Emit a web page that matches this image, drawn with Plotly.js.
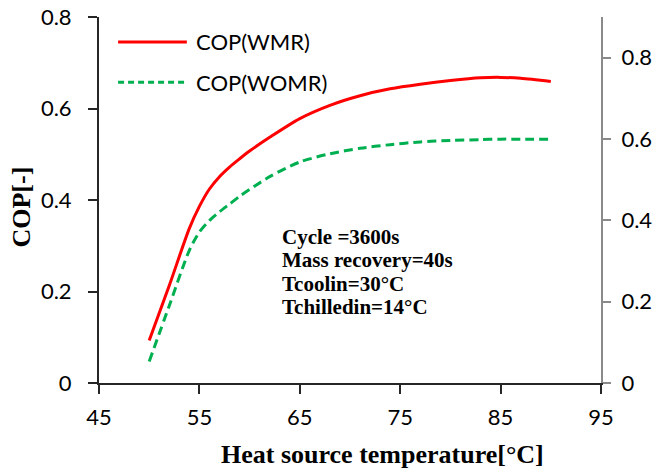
<!DOCTYPE html>
<html>
<head>
<meta charset="utf-8">
<script src="https://cdn.plot.ly/plotly-3.0.1.min.js"></script>
<style>html,body{margin:0;padding:0;background:#fff;}#chart{width:662px;height:469px;}</style>
</head>
<body>
<div id="chart"></div>
<script>
// Heat source temperature [°C]
const temperature = [50, 52, 54, 55, 56, 57, 58, 59, 60, 62, 65, 68, 71, 74, 77, 80, 83, 85, 87, 90];
// COP with mass recovery
const copWMR = [0.093, 0.213, 0.338, 0.386, 0.424, 0.451, 0.472, 0.490, 0.507, 0.537, 0.578, 0.607, 0.628, 0.643, 0.653, 0.661, 0.667, 0.668, 0.666, 0.659];
// COP without mass recovery
const copWOMR = [0.047, 0.169, 0.290, 0.330, 0.355, 0.374, 0.391, 0.408, 0.423, 0.451, 0.483, 0.501, 0.513, 0.521, 0.527, 0.530, 0.532, 0.533, 0.533, 0.533];
const seriesNames = ["COP(WMR)", "COP(WOMR)"];
const xTicks = [45, 55, 65, 75, 85, 95];
const yTicks = [0, 0.2, 0.4, 0.6, 0.8];
const y2Ticks = [0, 0.2, 0.4, 0.6, 0.8];
const noteLines = ["Cycle =3600s", "Mass recovery=40s", "Tcoolin=30°C", "Tchilledin=14°C"];
const xTitle = "Heat source temperature[°C]";
const yTitle = "COP[-]";

const tickFont = {family: "Lato, 'Open Sans', sans-serif", size: 22, color: "#000"};
const serifBold = "'Liberation Serif', 'Times New Roman', serif";

const traces = [
  {x: temperature, y: copWMR, name: seriesNames[0], type: "scatter", mode: "lines",
   line: {color: "#FF0000", width: 3, shape: "spline", smoothing: 0.8}, showlegend: false, hoverinfo: "skip"},
  {x: temperature, y: copWOMR, name: seriesNames[1], type: "scatter", mode: "lines",
   line: {color: "#00B050", width: 3, dash: "9px,5px", shape: "spline", smoothing: 0.8}, showlegend: false, hoverinfo: "skip"},
  // carrier so the secondary (right) axis is drawn; it has no marks
  {x: [], y: [], yaxis: "y2", type: "scatter", mode: "lines", showlegend: false, hoverinfo: "skip"}
];

const noteAnnotations = noteLines.map((t, i) => ({
  text: "<b>" + t + "</b>", xref: "paper", yref: "paper", x: 0.36, y: 0.399 - i * 0.0636,
  xanchor: "left", yanchor: "middle", align: "left", showarrow: false,
  font: {family: serifBold, size: 21, color: "#000"}
}));

const layout = {
  width: 662, height: 469,
  margin: {l: 99, r: 61, t: 17, b: 86, pad: 0},
  paper_bgcolor: "#fff", plot_bgcolor: "#fff",
  showlegend: false,
  xaxis: {range: [45, 95], tickvals: xTicks, ticktext: xTicks.map(String), ticks: "outside", ticklen: 9, tickwidth: 2,
    tickcolor: "#262626", showline: true, linecolor: "#262626", linewidth: 2, showgrid: false, zeroline: false,
    tickfont: tickFont, ticklabelstandoff: 5, fixedrange: true},
  yaxis: {range: [0, 0.8], tickvals: yTicks, ticktext: yTicks.map(v => String(v)), ticks: "outside", ticklen: 9, tickwidth: 2,
    tickcolor: "#262626", showline: true, linecolor: "#262626", linewidth: 2, showgrid: false, zeroline: false,
    tickfont: tickFont, ticklabelstandoff: 12, fixedrange: true},
  yaxis2: {range: [0, 0.9], overlaying: "y", side: "right", anchor: "x", tickvals: y2Ticks, ticktext: y2Ticks.map(v => String(v)),
    ticks: "outside", ticklen: 8, tickwidth: 2, tickcolor: "#8a8a8a", showline: true, linecolor: "#8a8a8a", linewidth: 2,
    showgrid: false, zeroline: false, tickfont: tickFont, ticklabelstandoff: 6, fixedrange: true},
  shapes: [
    {type: "line", xref: "paper", yref: "paper", x0: 0.038, x1: 0.175, y0: 0.932, y1: 0.932,
     line: {color: "#FF0000", width: 3}},
    {type: "line", xref: "paper", yref: "paper", x0: 0.038, x1: 0.175, y0: 0.822, y1: 0.822,
     line: {color: "#00B050", width: 3, dash: "6px,4px"}}
  ],
  annotations: [
    {text: seriesNames[0], xref: "paper", yref: "paper", x: 0.19, y: 0.932, xanchor: "left", yanchor: "middle",
     showarrow: false, font: tickFont},
    {text: seriesNames[1], xref: "paper", yref: "paper", x: 0.19, y: 0.822, xanchor: "left", yanchor: "middle",
     showarrow: false, font: tickFont},
    ...noteAnnotations,
    {text: "<b>" + xTitle + "</b>", xref: "paper", yref: "paper", x: 0.565, y: -0.195, xanchor: "center", yanchor: "middle",
     showarrow: false, font: {family: serifBold, size: 26, color: "#000"}},
    {text: "<b>" + yTitle + "</b>", xref: "paper", yref: "paper", x: -0.155, y: 0.48, xanchor: "center", yanchor: "middle",
     textangle: -90, showarrow: false, font: {family: serifBold, size: 26, color: "#000"}}
  ]
};

Plotly.newPlot("chart", traces, layout, {staticPlot: true, displayModeBar: false});
</script>
</body>
</html>
